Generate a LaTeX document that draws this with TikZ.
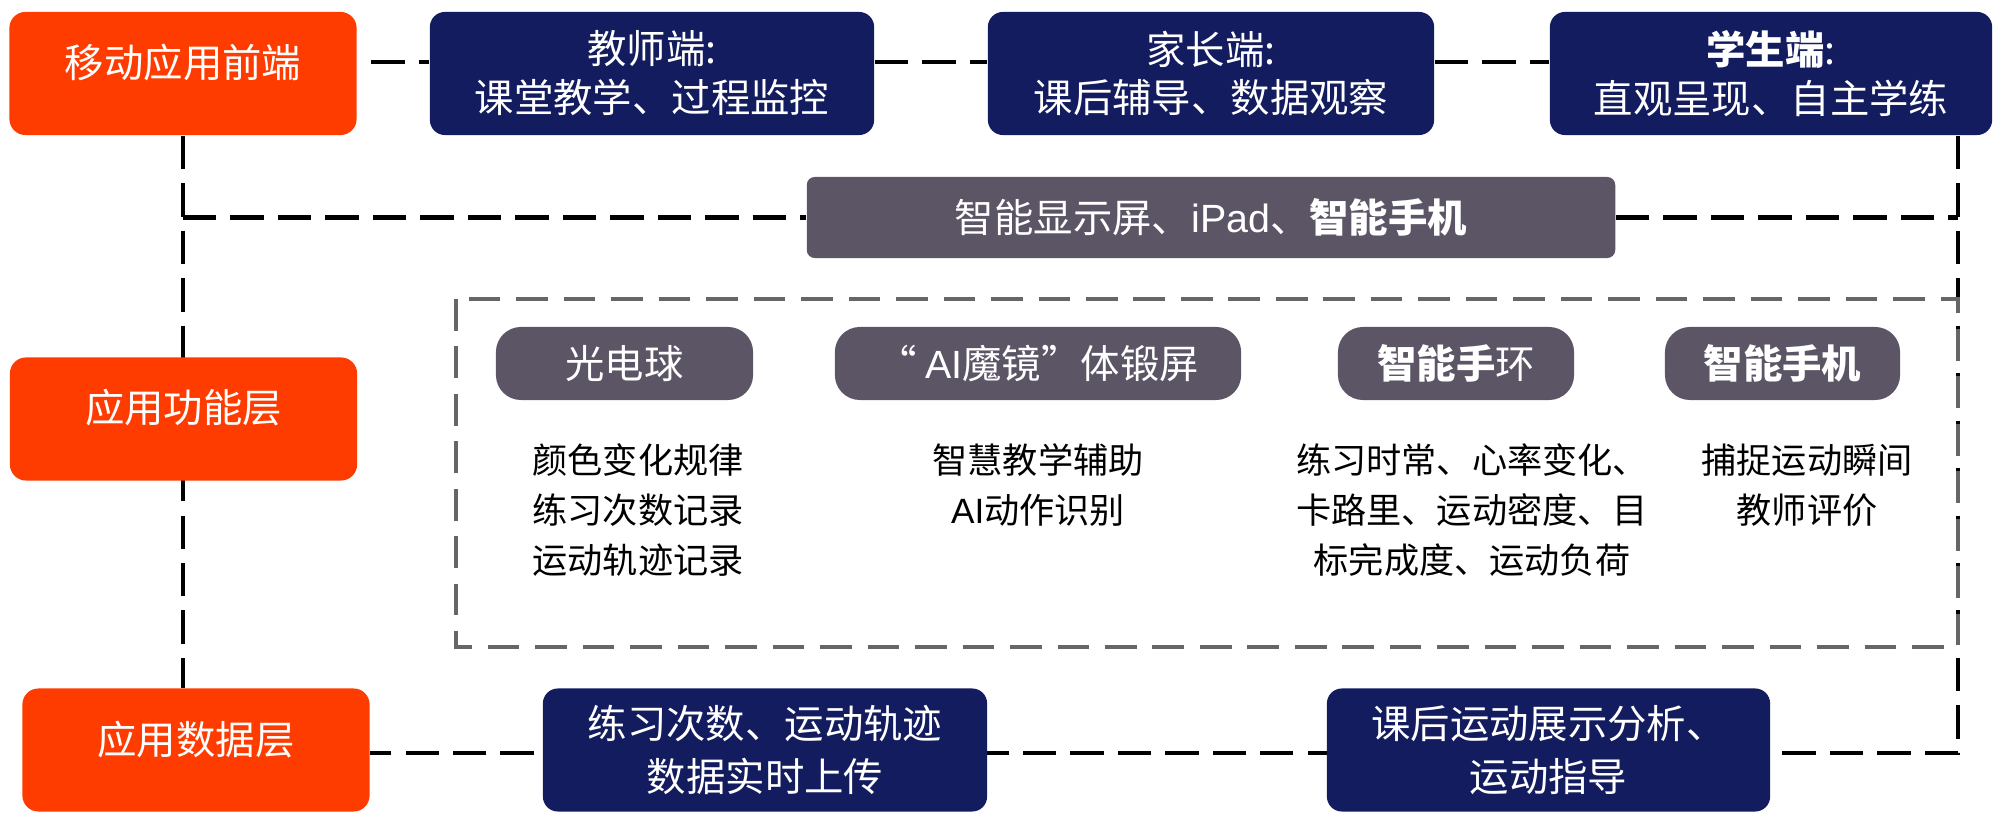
\documentclass[tikz,border=0pt]{standalone}
\usepackage{fontspec}
\setmainfont{Noto Sans CJK SC}
\newfontfamily\latinsans{Liberation Sans}
\definecolor{myorange}{HTML}{FF3C00}
\definecolor{mynavy}{HTML}{131C5E}
\definecolor{mygrey}{HTML}{5C5566}
\definecolor{framegrey}{HTML}{666666}
\pgfdeclarelayer{bg}
\pgfsetlayers{bg,main}
\tikzset{
  layerbox/.style={fill=myorange, rounded corners=0.16cm, minimum width=3.47cm, minimum height=1.23cm, text=white, inner sep=0pt, text height=0.34cm, text depth=0.26cm, font=\fontsize{11.2}{13}\selectfont},
  navybox/.style={fill=mynavy, rounded corners=0.15cm, minimum width=4.44cm, minimum height=1.23cm, text=white, inner sep=0pt, align=center},
  devbox/.style={fill=mygrey, rounded corners=0.25cm, minimum height=0.73cm, text=white, inner sep=0pt, font=\fontsize{11.2}{13}\selectfont},
  desc/.style={align=center, inner sep=0pt, font=\fontsize{10}{14.2}\selectfont},
  link/.style={draw=black, line width=1.15pt, dash pattern=on 9.5pt off 4pt},
  framebox/.style={draw=framegrey, line width=1.3pt, dash pattern=on 9pt off 4.5pt}
}
\begin{document}
\begin{tikzpicture}[x=0.01cm, y=-0.01cm]
\useasboundingbox (0,0) rectangle (2000,825);

% layer boxes
\node[layerbox] (m1) at (183,73.5) {移动应用前端};
\node[layerbox] (m2) at (183.5,419) {应用功能层};
\node[layerbox] (m3) at (196,750) {应用数据层};

% top navy boxes
\node[navybox, font=\fontsize{11.2}{13.9}\selectfont] (t) at (652,73.5) {教师端:\\课堂教学、过程监控};
\node[navybox, font=\fontsize{11.2}{13.9}\selectfont, minimum width=4.46cm] (p) at (1211,73.5) {家长端:\\课后辅导、数据观察};
\node[navybox, font=\fontsize{11.2}{13.9}\selectfont, minimum width=4.42cm] (s) at (1771,73.5) {{\bfseries 学生端}:\\直观呈现、自主学练};

% device box
\node[devbox, minimum width=8.08cm, minimum height=0.81cm, rounded corners=0.08cm] (g) at (1211,217.5) {智能显示屏、{\latinsans iPad}、{\bfseries 智能手机}};

% function frame
\draw[framebox] (456,299) rectangle (1958,647);
\node[devbox, minimum width=2.57cm] (b1) at (624.5,363.5) {光电球};
\node[devbox, minimum width=4.06cm] (b2) at (1038,363.5) {“ {\latinsans AI}魔镜”体锻屏};
\node[devbox, minimum width=2.36cm] (b3) at (1456,363.5) {{\bfseries 智能手}环};
\node[devbox, minimum width=2.35cm] (b4) at (1782.5,363.5) {\bfseries 智能手机};

\node[desc] (d1t) at (638,510) {颜色变化规律\\练习次数记录\\运动轨迹记录};
\node[desc] (d2t) at (1038,485) {智慧教学辅助\\{\latinsans AI}动作识别};
\node[desc] (d3t) at (1472,510) {练习时常、心率变化、\\卡路里、运动密度、目\\标完成度、运动负荷};
\node[desc] (d4t) at (1807,485) {捕捉运动瞬间\\教师评价};

% data boxes
\node[navybox, font=\fontsize{11.2}{15}\selectfont] (x1) at (765,750) {练习次数、运动轨迹\\数据实时上传};
\node[navybox, font=\fontsize{11.2}{15}\selectfont, minimum width=4.43cm] (x2) at (1548.5,750) {课后运动展示分析、\\运动指导};

\coordinate (topy) at (0,62);
\coordinate (R) at (1958,0);
\coordinate (boty) at (0,753);

\begin{pgfonlayer}{bg}
  \draw[link] ([xshift=0.14cm]m1.east |- topy) -- (t.west |- topy);
  \draw[link] (t.east |- topy) -- (p.west |- topy);
  \draw[link] (p.east |- topy) -- (s.west |- topy);
  \draw[link] (m1.south) -- (m1.south |- m3.north);
  \draw[link] (m1.south |- g.west) -- (g.west);
  \draw[link] (g.east) -- (R |- g.east);
  \draw[link] (R |- s.south) -- (R |- boty) -- (m3.east |- boty);
\end{pgfonlayer}
\end{tikzpicture}
\end{document}
